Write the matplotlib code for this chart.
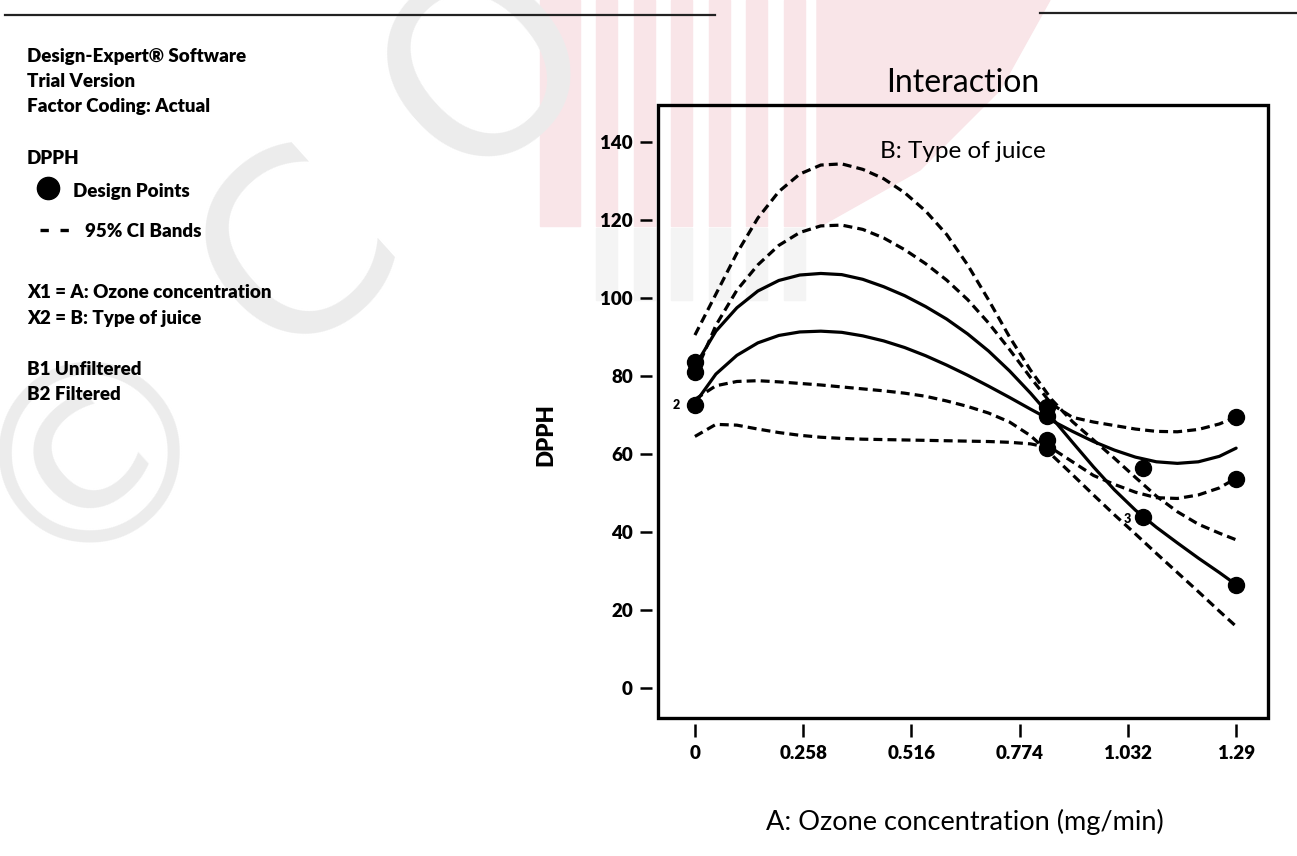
import matplotlib.pyplot as plt
from matplotlib.patches import Rectangle, Polygon

# %% Data
x_grid = [0, 0.05, 0.1, 0.15, 0.2, 0.25, 0.3, 0.35, 0.4, 0.45, 0.5, 0.55, 0.6, 0.65,
          0.7, 0.75, 0.8, 0.85, 0.9, 0.95, 1.0, 1.05, 1.1, 1.15, 1.2, 1.25, 1.29]

# B1 (unfiltered) prediction and 95% CI bands
b1_fit = [82.5, 91.5, 97.5, 101.8, 104.5, 105.9, 106.3, 106, 104.8, 102.9, 100.6, 97.8,
          94.6, 90.8, 86.4, 81.3, 75.6, 69.4, 63, 56.7, 50.8, 45.6, 41.2, 37.2, 33.3, 29.6, 26.5]
b1_upper = [90.5, 101, 111.5, 120.5, 127.3, 131.8, 134.1, 134.4, 133, 130.6, 127, 122.3,
            116.3, 108.5, 99.5, 90, 81.5, 74, 68.3, 63.6, 58.9, 54, 49.2, 45.2, 42, 39.7, 38]
b1_lower = [74, 77.5, 78.6, 78.8, 78.5, 78.1, 77.7, 77.2, 76.7, 76.2, 75.6, 74.8,
            73.6, 72.2, 70.5, 68.2, 64.7, 59.8, 54.7, 49.5, 44.4, 39.5, 34.5, 29.6, 24.7, 19.7, 15.8]

# B2 (filtered) prediction and 95% CI bands
b2_fit = [73, 80.5, 85.3, 88.5, 90.4, 91.3, 91.5, 91.2, 90.3, 89, 87.3, 85.2,
          82.8, 80.2, 77.4, 74.5, 71.5, 68.6, 65.8, 63.2, 61, 59.2, 58, 57.6, 58, 59.4, 61.5]
b2_upper = [80.5, 93, 102, 108.5, 113.5, 116.8, 118.5, 118.7, 117.6, 115.4, 112.4, 108.8,
            104.6, 99.6, 93.6, 86.8, 79.6, 72.8, 69.4, 68.2, 67.3, 66.4, 65.8, 65.7, 66.3, 67.7, 69.5]
b2_lower = [64.5, 67.6, 67.4, 66.4, 65.5, 64.8, 64.3, 64, 63.8, 63.7, 63.6, 63.5,
            63.4, 63.3, 63.2, 63, 62.6, 61.5, 58, 54.5, 52.2, 50.2, 48.8, 48.6, 49.5, 51.3, 53.8]

# design points
pts_x = [0, 0, 0, 0.84, 0.84, 0.84, 0.84, 1.068, 1.068, 1.29, 1.29, 1.29]
pts_y = [81.0, 83.5, 72.6, 72.0, 69.8, 63.5, 61.5, 56.4, 43.8, 69.5, 53.6, 26.3]

x_ticks = [0, 0.258, 0.516, 0.774, 1.032, 1.29]
x_tick_labels = ["0", "0.258", "0.516", "0.774", "1.032", "1.29"]
y_ticks = [0, 20, 40, 60, 80, 100, 120, 140]

legend_lines = [
    ("Design-Expert\u00ae Software", 62),
    ("Trial Version", 87),
    ("Factor Coding: Actual", 112),
    ("DPPH", 164),
    ("X1 = A: Ozone concentration", 298),
    ("X2 = B: Type of juice", 324),
    ("B1 Unfiltered", 375),
    ("B2 Filtered", 400),
]

# %% Figure
W, H = 1297, 856
plt.rcParams["font.family"] = ["Lato", "DejaVu Sans"]
fig = plt.figure(figsize=(W / 100, H / 100), dpi=100)


def fx(px):
    return px / W


def fy(py):
    return 1 - py / H


# watermark: pink striped logo and grey copyright letters
pink = "#f9e5e8"
fig.patches.append(Rectangle((fx(540), fy(226)), fx(40), 226 / H, color=pink,
                             transform=fig.transFigure, zorder=-2))
for i in range(6):
    x0 = 596 + i * 37.5
    fig.patches.append(Rectangle((fx(x0), fy(226)), fx(21), 226 / H, color=pink,
                                 transform=fig.transFigure, zorder=-2))
    fig.patches.append(Rectangle((fx(x0), fy(300)), fx(21), 72 / H, color="#f4f4f4",
                                 transform=fig.transFigure, zorder=-2))
fig.patches.append(Polygon([(fx(817), fy(0)), (fx(1050), fy(0)), (fx(1000), fy(90)),
                            (fx(920), fy(170)), (fx(817), fy(228))],
                           closed=True, color=pink, transform=fig.transFigure, zorder=-2))
for ch, cx, cy in [("\u00a9", 95, 445), ("C", 300, 255), ("O", 490, 70)]:
    fig.text(fx(cx), fy(cy), ch, fontsize=180, color="#ececec", rotation=42,
             rotation_mode="anchor", ha="center", va="center",
             family="DejaVu Sans", zorder=-1)

# scanned page rules at the top
fig.add_artist(plt.Line2D([fx(5), fx(715)], [fy(15), fy(15)], color="#222222", lw=1.6))
fig.add_artist(plt.Line2D([fx(1040), fx(1297)], [fy(13), fy(13)], color="#222222", lw=1.6))

# left-hand info block
for txt, py in legend_lines:
    fig.text(fx(27), fy(py), txt, fontsize=13.5, fontweight="heavy", va="baseline")
fig.text(fx(73), fy(197), "Design Points", fontsize=13.5, fontweight="heavy", va="baseline")
fig.text(fx(85), fy(237), "95% CI Bands", fontsize=13.5, fontweight="heavy", va="baseline")
fig.add_artist(plt.Line2D([fx(48)], [fy(188)], marker="o", ms=16, color="black"))
fig.add_artist(plt.Line2D([fx(40), fx(69)], [fy(230), fy(230)], color="black", lw=2.4,
                          ls=(0, (2.5, 3.5)), solid_capstyle="butt"))

# %% Interaction plot
ax = fig.add_axes([fx(658), 1 - 718 / H, fx(610), 613 / H])
ax.patch.set_visible(False)

solid = dict(color="black", lw=2.3, solid_capstyle="round")
dashed = dict(color="black", lw=2.3, ls=(0, (2.8, 1.6)))
ax.plot(x_grid, b1_fit, **solid)
ax.plot(x_grid, b2_fit, **solid)
for band in (b1_upper, b1_lower, b2_upper, b2_lower):
    ax.plot(x_grid, band, **dashed)

ax.plot(pts_x, pts_y, "o", color="black", ms=11.5, clip_on=False)
ax.text(-0.045, 72.6, "2", fontsize=9, fontweight="heavy", ha="center", va="center")
ax.text(1.03, 43.3, "3", fontsize=9, fontweight="heavy", ha="center", va="center")
ax.text(0.5, 0.913, "B: Type of juice", transform=ax.transAxes, fontsize=17.5,
        ha="center", va="baseline")

ax.set_xlim(-0.088, 1.366)
ax.set_ylim(-7.7, 149.5)
ax.set_xticks(x_ticks)
ax.set_xticklabels(x_tick_labels)
ax.set_yticks(y_ticks)

# ticks hang off the box with a small gap, as in Design-Expert
ax.spines["left"].set_position(("outward", 4.5))
ax.spines["bottom"].set_position(("outward", 4))
for s in ax.spines.values():
    s.set_color("none")
ax.add_patch(Rectangle((0, 0), 1, 1, transform=ax.transAxes, fill=False, lw=2.4,
                       color="black", clip_on=False))
ax.tick_params(axis="y", direction="out", length=8.5, width=1.8, pad=5, labelsize=13.5)
ax.tick_params(axis="x", direction="out", length=9.5, width=1.8, pad=6, labelsize=13.5)
for lab in ax.get_xticklabels() + ax.get_yticklabels():
    lab.set_fontweight("heavy")

fig.text(fx(963), fy(92), "Interaction", fontsize=23, ha="center", va="baseline")
fig.text(fx(546), fy(435), "DPPH", fontsize=16, fontweight="heavy", rotation=90,
         ha="center", va="center")
fig.text(fx(965), fy(830), "A: Ozone concentration (mg/min)", fontsize=19.5,
         ha="center", va="baseline")

fig.savefig("out.png", dpi=100)
